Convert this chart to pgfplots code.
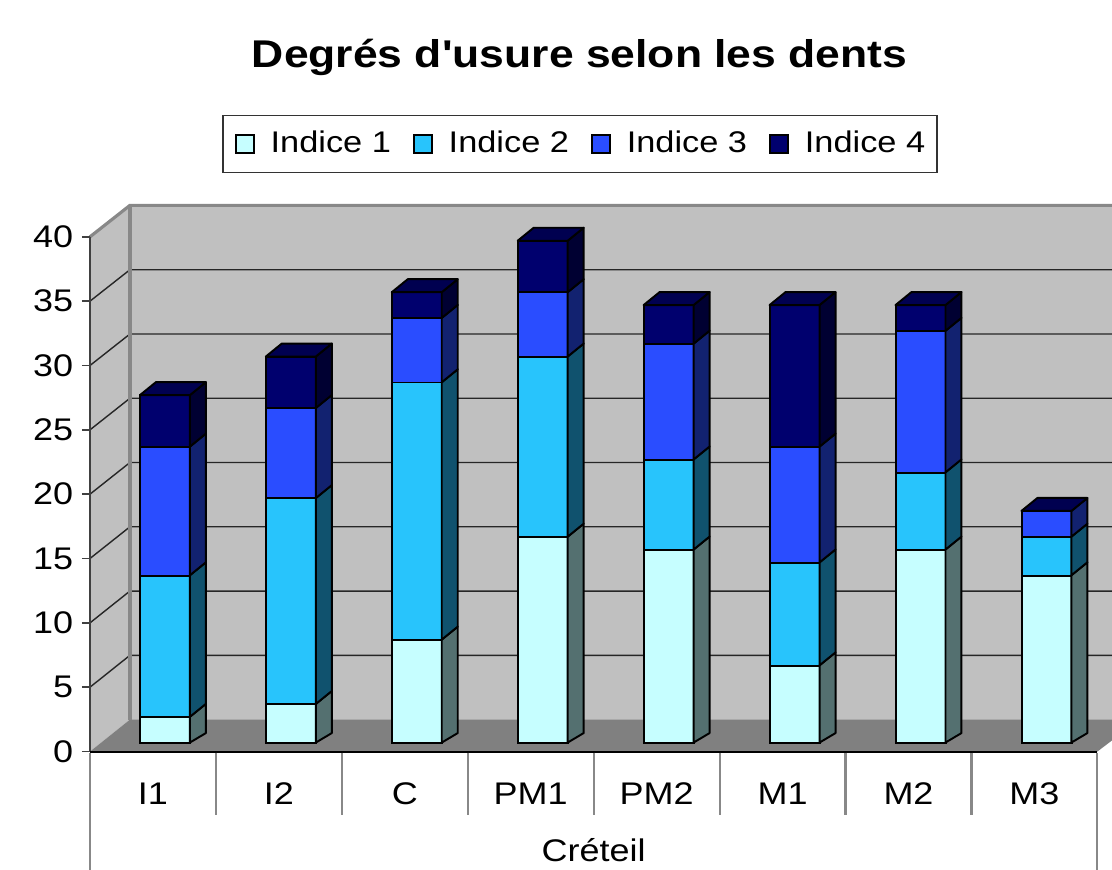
\documentclass[border=0pt]{standalone}
\usepackage{fontspec}
\setmainfont{Liberation Sans}[FakeStretch=1.15,Ligatures=TeXOff]
\usepackage{pgfplots}
\pgfplotsset{compat=1.18}
\usepackage{pgfplotstable}

\definecolor{cA}{RGB}{198,254,255}
\definecolor{cB}{RGB}{40,196,252}
\definecolor{cC}{RGB}{42,77,255}
\definecolor{cD}{RGB}{0,0,110}
\definecolor{sA}{RGB}{84,112,112}
\definecolor{sB}{RGB}{16,82,110}
\definecolor{sC}{RGB}{18,34,112}
\definecolor{sD}{RGB}{0,0,50}
\definecolor{tD}{RGB}{0,0,80}
\definecolor{wall}{RGB}{192,192,192}
\definecolor{floorc}{RGB}{128,128,128}
\definecolor{edge}{RGB}{136,136,136}

% x: category index, then Indice 1..4
\pgfplotstableread{
x  a  b  c  d
0  2  11 10 4
1  3  16 7  4
2  8  20 5  2
3  16 14 5  4
4  15 7  9  3
5  6  8  9  11
6  15 6  11 2
7  13 3  2  0
}\datatable

% 3D faces (pixel scope): i, y0, y1, colour
\newcommand\sfc[4]{\filldraw[fill=#4,draw=black,line width=0.55pt,line join=round]
 ({190+126*#1},{743-12.875*#2}) -- ({206+126*#1},{730-12.875*#2}) --
 ({206+126*#1},{730-12.875*#3}) -- ({190+126*#1},{743-12.875*#3}) -- cycle;}
\newcommand\sfb[3]{\filldraw[fill=#3,draw=black,line width=0.55pt,line join=round]
 ({190+126*#1},743) -- ({206+126*#1},733.5) --
 ({206+126*#1},{730-12.875*#2}) -- ({190+126*#1},{743-12.875*#2}) -- cycle;}
\newcommand\tfc[2]{\filldraw[fill=tD,draw=black,line width=0.55pt,line join=round]
 ({140+126*#1},{743-12.875*#2}) -- ({156+126*#1},{730-12.875*#2}) --
 ({206+126*#1},{730-12.875*#2}) -- ({190+126*#1},{743-12.875*#2}) -- cycle;}

\pgfplotsset{mylegend/.style={legend image code/.code={%
  \draw[##1,draw=black,line width=0.5pt] (0cm,-0.09cm) rectangle (0.18cm,0.09cm);}}}

\begin{document}
\begin{tikzpicture}
% ---------- background (pixel coordinates) ----------
\begin{scope}[x=0.01cm,y=-0.01cm,yshift=8.69cm]
  \fill[white] (0,0) rectangle (1112,869);
  % back wall and left wall
  \fill[wall] (130,205) rectangle (1140,720);
  \fill[wall] (90,237) -- (130,205) -- (130,720) -- (90,752) -- cycle;
  % floor
  \fill[floorc] (90,752) -- (130,720) -- (1140,720) -- (1098,752) -- cycle;
  % gridlines
  \foreach \v in {5,10,...,35} {
    \draw[black!85,line width=0.4pt] (90,{752-12.875*\v}) -- (130,{720-12.86*\v}) -- (1140,{720-12.86*\v});
  }
  % wall edges
  \draw[edge,line width=0.9pt] (90,237) -- (130,205.5) -- (1140,205.5);
  \draw[edge,line width=0.9pt] (130,205.5) -- (130,720);
  % y axis and ticks
  \draw[black!75,line width=0.45pt] (90,237) -- (90,752);
  \foreach \v in {0,5,...,40} {
    \draw[black!75,line width=0.45pt] (82,{752-12.875*\v}) -- (90,{752-12.875*\v});
    \node[anchor=east,inner sep=0pt,font=\fontsize{8.9}{10}\selectfont] at (74,{752-12.875*\v}) {\v};
  }
  % table under the chart
  \draw[black,line width=0.45pt] (90,752.5) -- (1098,752.5);
  \foreach \k in {1,...,7} {
    \draw[edge,line width=0.6pt] ({90+126*\k},753) -- ({90+126*\k},815);
  }
  \draw[edge,line width=0.6pt] (90,753) -- (90,880);
  \draw[edge,line width=0.6pt] (1098,753) -- (1098,880);
  \foreach \lab [count=\i from 0] in {I1,I2,C,PM1,PM2,M1,M2,M3} {
    \node[anchor=base,inner sep=0pt,font=\fontsize{8.9}{10}\selectfont] at ({153+126*\i},805) {\lab};
  }
  \node[anchor=base,inner sep=0pt,font=\fontsize{8.9}{10}\selectfont] at (594,862) {Créteil};
  % title
  \node[anchor=base,inner sep=0pt,font=\bfseries\fontsize{11}{13}\selectfont] at (580,68) {Degrés d'usure selon les dents};
\end{scope}

% ---------- bars ----------
\begin{axis}[
  at={(0,0)}, anchor=south west,
  width=11.12cm, height=8.69cm, scale only axis,
  xmin=-1.30952, xmax=7.51587,
  ymin=-9.7864, ymax=57.7087,
  hide axis, clip=false,
  ybar stacked, bar width=0.5cm,
  legend columns=4,
  legend style={at={(0.5216,0.8343)}, anchor=center,
    draw=black!80, line width=0.5pt,
    inner xsep=0.12cm, inner ysep=0.15cm,
    font=\fontsize{8.5}{10}\selectfont,
    nodes={inner sep=0pt},
    /tikz/every odd column/.append style={column sep=0.16cm},
    /tikz/every even column/.append style={column sep=0.22cm}},
]
\addplot[fill=cA,draw=black,line width=0.55pt,mylegend] table[x=x,y=a] {\datatable};
\addplot[fill=cB,draw=black,line width=0.55pt,mylegend] table[x=x,y=b] {\datatable};
\addplot[fill=cC,draw=black,line width=0.55pt,mylegend] table[x=x,y=c] {\datatable};
\addplot[fill=cD,draw=black,line width=0.55pt,mylegend] table[x=x,y=d] {\datatable};
\legend{Indice 1,Indice 2,Indice 3,Indice 4}
\end{axis}

% ---------- 3D side and top faces ----------
\begin{scope}[x=0.01cm,y=-0.01cm,yshift=8.69cm]
  % I1
  \sfb{0}{2}{sA}\sfc{0}{2}{13}{sB}\sfc{0}{13}{23}{sC}\sfc{0}{23}{27}{sD}\tfc{0}{27}
  % I2
  \sfb{1}{3}{sA}\sfc{1}{3}{19}{sB}\sfc{1}{19}{26}{sC}\sfc{1}{26}{30}{sD}\tfc{1}{30}
  % C
  \sfb{2}{8}{sA}\sfc{2}{8}{28}{sB}\sfc{2}{28}{33}{sC}\sfc{2}{33}{35}{sD}\tfc{2}{35}
  % PM1
  \sfb{3}{16}{sA}\sfc{3}{16}{30}{sB}\sfc{3}{30}{35}{sC}\sfc{3}{35}{39}{sD}\tfc{3}{39}
  % PM2
  \sfb{4}{15}{sA}\sfc{4}{15}{22}{sB}\sfc{4}{22}{31}{sC}\sfc{4}{31}{34}{sD}\tfc{4}{34}
  % M1
  \sfb{5}{6}{sA}\sfc{5}{6}{14}{sB}\sfc{5}{14}{23}{sC}\sfc{5}{23}{34}{sD}\tfc{5}{34}
  % M2
  \sfb{6}{15}{sA}\sfc{6}{15}{21}{sB}\sfc{6}{21}{32}{sC}\sfc{6}{32}{34}{sD}\tfc{6}{34}
  % M3
  \sfb{7}{13}{sA}\sfc{7}{13}{16}{sB}\sfc{7}{16}{18}{sC}\tfc{7}{18}
\end{scope}

\pgfresetboundingbox
\path[use as bounding box] (0,0) rectangle (11.12cm,8.69cm);
\end{tikzpicture}
\end{document}
